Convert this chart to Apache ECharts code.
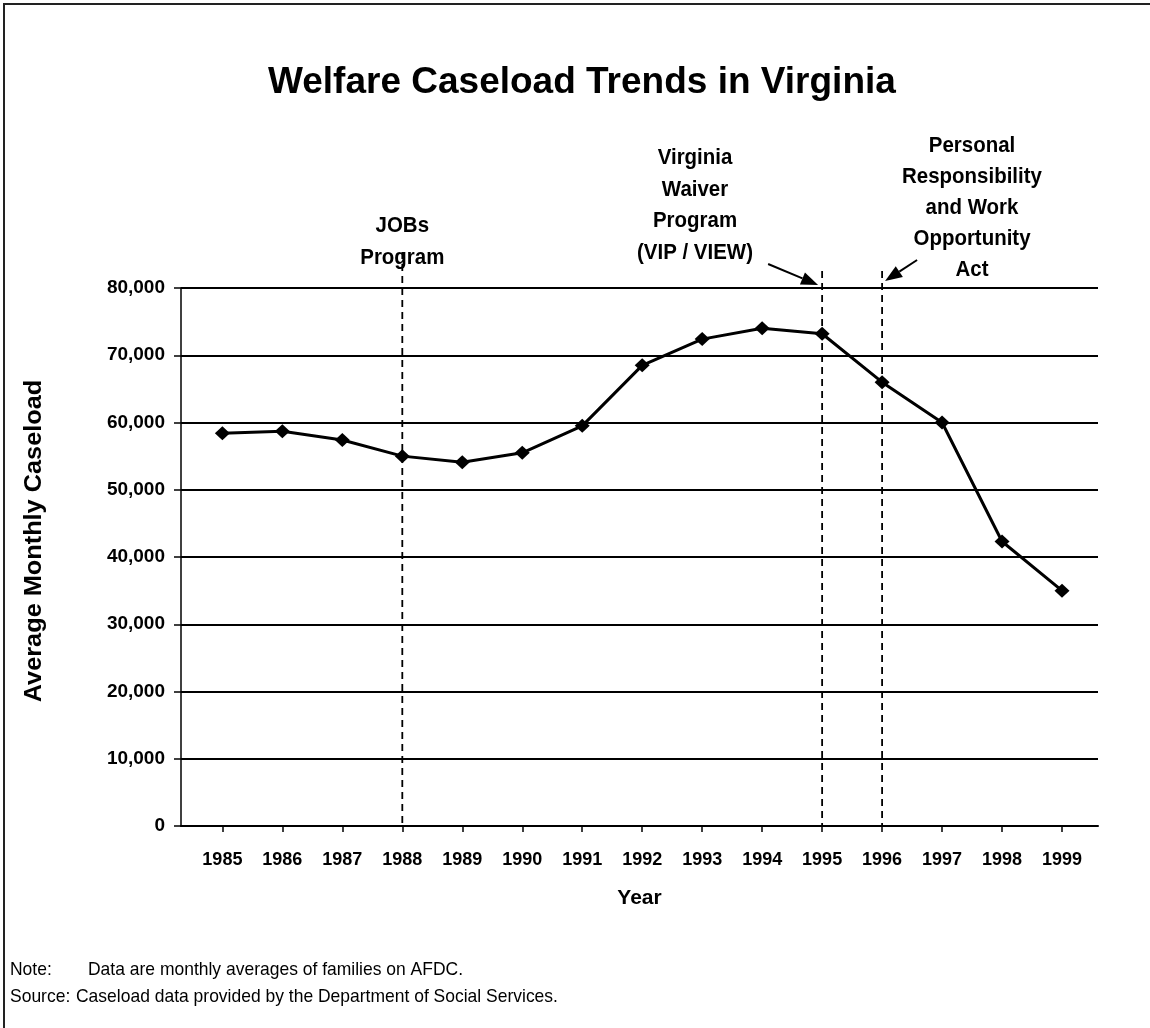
<!DOCTYPE html>
<html><head><meta charset="utf-8">
<script src="https://cdn.jsdelivr.net/npm/echarts@6/dist/echarts.min.js"></script>
<style>html,body{margin:0;padding:0;background:#fff}#c{width:1150px;height:1028px}</style>
</head><body><div id="c"></div>
<script>
const years = [1985,1986,1987,1988,1989,1990,1991,1992,1993,1994,1995,1996,1997,1998,1999];
const caseload = [58400,58700,57400,55000,54100,55500,59500,68500,72400,74000,73200,66000,60000,42300,35000];
const yTicks = [0,10000,20000,30000,40000,50000,60000,70000,80000];
const policyYears = [1988,1995,1996];
const titleText = 'Welfare Caseload Trends in Virginia';
const yTitle = 'Average Monthly Caseload';
const xTitle = 'Year';
const annJobs = ['JOBs','Program'];
const annVip = ['Virginia','Waiver','Program','(VIP / VIEW)'];
const annPrwoa = ['Personal','Responsibility','and Work','Opportunity','Act'];
const noteLines = [['Note:','Data are monthly averages of families on AFDC.'],['Source:','Caseload data provided by the Department of Social Services.']];

const FONT = '"Liberation Sans", Arial, sans-serif';
const chart = echarts.init(document.getElementById('c'), null, {renderer:'canvas'});
const option = {
  backgroundColor:'#fff',
  animation:false,
  title:{text:titleText,left:263,top:59,textStyle:{fontFamily:FONT,fontSize:37,fontWeight:'bold',color:'#000'}},
  grid:{left:181,right:52,top:288,bottom:202},
  xAxis:{type:'value',min:1984.31,max:1999.6,
    axisLine:{lineStyle:{color:'#000',width:2}},
    axisTick:{show:true,customValues:years,length:6,lineStyle:{color:'#000',width:1.5}},
    axisLabel:{customValues:years,formatter:v=>String(v),margin:25,fontFamily:FONT,fontWeight:'bold',fontSize:18,color:'#000'},
    splitLine:{show:false},
    name:xTitle,nameLocation:'middle',nameGap:62,
    nameTextStyle:{fontFamily:FONT,fontWeight:'bold',fontSize:21,color:'#000'}
  },
  yAxis:{type:'value',min:yTicks[0],max:yTicks[yTicks.length-1],interval:yTicks[1]-yTicks[0],
    axisLine:{show:true,lineStyle:{color:'#000',width:1.5}},
    axisTick:{show:true,length:7,lineStyle:{color:'#000',width:1.5}},
    axisLabel:{margin:16,fontFamily:FONT,fontWeight:'bold',fontSize:19,color:'#000',
      formatter:v=>v.toLocaleString('en-US')},
    splitLine:{show:true,lineStyle:{color:'#000',width:1.8}}
  },
  series:[{type:'line',data:years.map((y,i)=>[y,caseload[i]]),
    symbol:'diamond',symbolSize:[15,14],showSymbol:true,
    lineStyle:{color:'#000',width:3},itemStyle:{color:'#000'},z:5}]
};
chart.setOption(option);

const px = (x,y)=>chart.convertToPixel({gridIndex:0},[x,y]);
const g = [];
g.push({type:'rect',shape:{x:4,y:4,width:1160,height:1040},style:{fill:null,stroke:'#222',lineWidth:2},z:0});
const topY = px(1985,80000)[1];
const bottomY = px(1985,0)[1];
const dashTops = [topY-36, topY-17, topY-17];
policyYears.forEach((yr,i)=>{
  const x = px(yr,0)[0];
  g.push({type:'line',shape:{x1:x,y1:dashTops[i],x2:x,y2:bottomY},style:{stroke:'#000',lineWidth:1.8,lineDash:[7,5]},z:4});
});
function arrow(x1,y1,x2,y2){
  const dx=x2-x1, dy=y2-y1, L=Math.hypot(dx,dy), ux=dx/L, uy=dy/L;
  const hl=17, hw=6.5;
  const bx=x2-ux*hl, by=y2-uy*hl;
  g.push({type:'line',shape:{x1,y1,x2:bx,y2:by},style:{stroke:'#000',lineWidth:2},z:6});
  g.push({type:'polygon',shape:{points:[[x2,y2],[bx-uy*hw,by+ux*hw],[bx+uy*hw,by-ux*hw]]},style:{fill:'#000'},z:6});
}
const x95 = px(1995,0)[0], x96 = px(1996,0)[0];
arrow(x95-54, topY-24, x95-4, topY-3);
arrow(x96+35, topY-28, x96+3, topY-7);
function block(lines,cx,y0,step){
  lines.forEach((t,i)=>g.push({type:'text',x:cx,y:y0+i*step,scaleX:0.93,
    style:{text:t,textAlign:'center',textVerticalAlign:'middle',font:'bold 22px '+FONT,fill:'#000'},z:7}));
}
block(annJobs, px(1988,0)[0], 226, 32);
block(annVip, 695, 158, 31.5);
block(annPrwoa, 972, 146, 31);
g.push({type:'text',x:35,y:541,rotation:Math.PI/2,scaleX:1.1,
  style:{text:yTitle,textAlign:'center',textVerticalAlign:'middle',font:'bold 23px '+FONT,fill:'#000'},z:7});
noteLines.forEach((ln,i)=>{
  const y = 970 + i*27;
  g.push({type:'text',x:10,y:y,scaleX:0.92,style:{text:ln[0],textVerticalAlign:'middle',font:'19px '+FONT,fill:'#000'}});
  g.push({type:'text',x:i===0?88:76,y:y,scaleX:0.92,style:{text:ln[1],textVerticalAlign:'middle',font:'19px '+FONT,fill:'#000'}});
});
chart.setOption({graphic:g});
</script></body></html>
